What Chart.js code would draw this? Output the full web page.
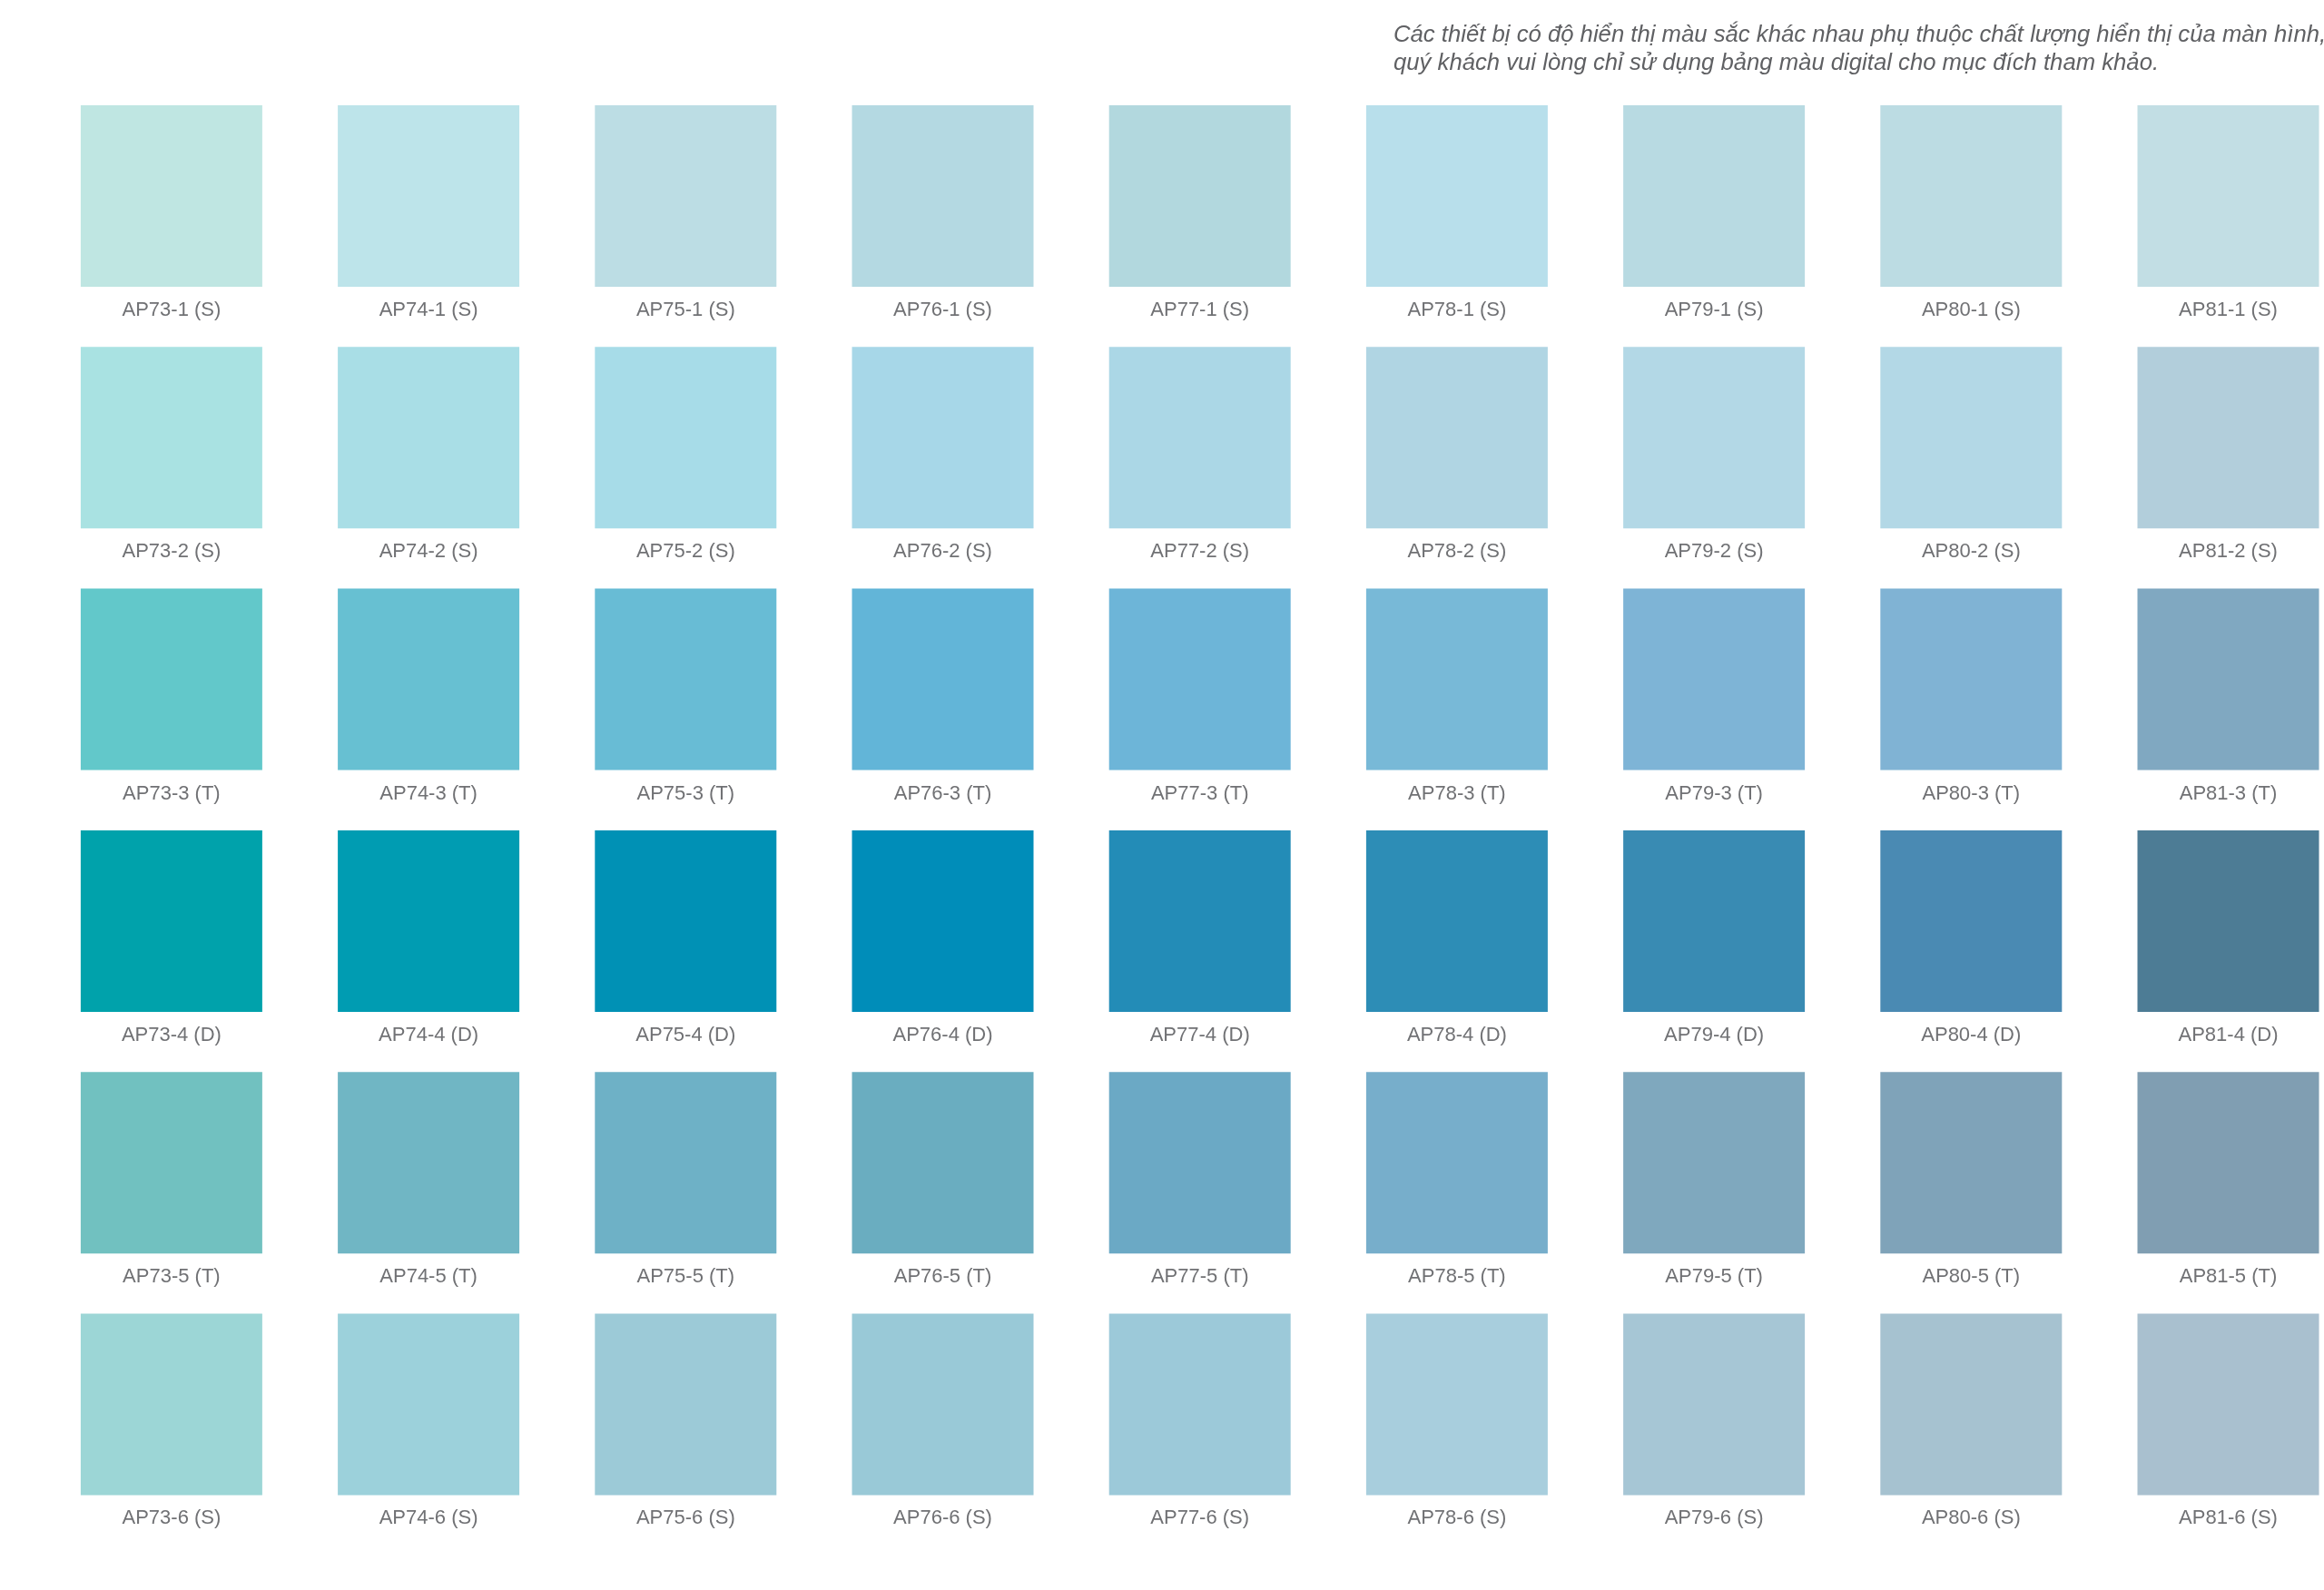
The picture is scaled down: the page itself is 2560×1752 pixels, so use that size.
<!DOCTYPE html>
<html lang="vi">
<head>
<meta charset="utf-8">
<title>Bảng màu AP73 - AP81</title>
<script src="https://cdn.jsdelivr.net/npm/chart.js@4/dist/chart.umd.min.js"></script>
<style>
  html, body {
    margin: 0;
    padding: 0;
    background: #ffffff;
    overflow: hidden;
  }
  #wrap {
    position: relative;
    width: 2560px;
    height: 1752px;
  }
  #note {
    position: absolute;
    left: 1535px;
    top: 22px;
    font-family: "Liberation Sans", Arial, sans-serif;
    font-style: italic;
    font-size: 25.7px;
    line-height: 31px;
    color: #5f6063;
    white-space: nowrap;
  }
</style>
</head>
<body>
<div id="wrap">
  <canvas id="swatchChart"></canvas>
  <div id="note">
    Các thiết bị có độ hiển thị màu sắc khác nhau phụ thuộc chất lượng hiển thị của màn hình,<br>
    quý khách vui lòng chỉ sử dụng bảng màu digital cho mục đích tham khảo.
  </div>
</div>
<script>
// Colour codes (columns) and tone levels (rows)
const seriesCodes = ["AP73", "AP74", "AP75", "AP76", "AP77", "AP78", "AP79", "AP80", "AP81"];
const toneLevels = [1, 2, 3, 4, 5, 6];
const finishCodes = ["S", "S", "T", "D", "T", "S"];

// Swatch colours, one array per tone level
const tone1Colors = ["#bfe6e2", "#bde4ea", "#bcdde4", "#b4d9e2", "#b2d8de", "#b8dfeb", "#b8dae2", "#bcdce3", "#c2dee4"];
const tone2Colors = ["#a9e2e2", "#a9dee6", "#a7dce8", "#a7d7e8", "#abd7e6", "#b0d5e3", "#b3d8e6", "#b3d8e6", "#b2cedb"];
const tone3Colors = ["#62c8ca", "#67c0d2", "#68bcd5", "#62b5d8", "#6db5d8", "#78b9d7", "#7eb4d6", "#80b3d4", "#80a8c1"];
const tone4Colors = ["#00a2ab", "#009cb2", "#0091b5", "#008db9", "#238cb7", "#2d8db6", "#398bb3", "#4a8ab3", "#4d7c95"];
const tone5Colors = ["#71c1c0", "#70b6c4", "#6eb1c6", "#6aadc0", "#6ba9c5", "#77aecb", "#7fa8be", "#7fa3b9", "#809eb2"];
const tone6Colors = ["#9cd6d6", "#9cd1db", "#9ccad7", "#99c9d7", "#9cc9d9", "#a8cedd", "#a6c6d5", "#a6c2d0", "#a9c0cf"];

const toneColors = [tone1Colors, tone2Colors, tone3Colors, tone4Colors, tone5Colors, tone6Colors];

// One dataset per tone row, each swatch is a square point
const datasets = toneLevels.map((tone, r) => ({
  label: "Tone " + tone,
  data: seriesCodes.map((code, c) => ({
    x: c,
    y: r,
    name: `${code}-${tone} (${finishCodes[r]})`,
  })),
  pointStyle: "rect",
  pointRadius: 141.42,
  pointHoverRadius: 141.42,
  pointBorderWidth: 0,
  pointBackgroundColor: toneColors[r],
  pointBorderColor: toneColors[r],
  showLine: false,
}));

// Draws the code under each swatch
const swatchLabels = {
  id: "swatchLabels",
  afterDatasetsDraw(chart) {
    const ctx = chart.ctx;
    ctx.save();
    ctx.font = "22px 'Liberation Sans', Arial, sans-serif";
    ctx.fillStyle = "#707174";
    ctx.textAlign = "center";
    ctx.textBaseline = "alphabetic";
    chart.data.datasets.forEach((ds, i) => {
      const meta = chart.getDatasetMeta(i);
      meta.data.forEach((pt, j) => {
        ctx.fillText(ds.data[j].name, pt.x, pt.y + 132);
      });
    });
    ctx.restore();
  },
};

const ctx = document.getElementById("swatchChart").getContext("2d");
const chart = new Chart(ctx, {
  type: "scatter",
  data: { datasets: datasets },
  options: {
    responsive: true,
    maintainAspectRatio: false,
    animation: false,
    events: [],
    layout: { padding: 0, autoPadding: false },
    scales: {
      x: {
        type: "linear",
        display: false,
        min: -0.667,
        max: 8.3725,
      },
      y: {
        type: "linear",
        display: false,
        reverse: true,
        min: -0.811,
        max: 5.768,
      },
    },
    plugins: {
      legend: { display: false },
      tooltip: { enabled: false },
    },
  },
  plugins: [swatchLabels],
});
</script>
</body>
</html>
